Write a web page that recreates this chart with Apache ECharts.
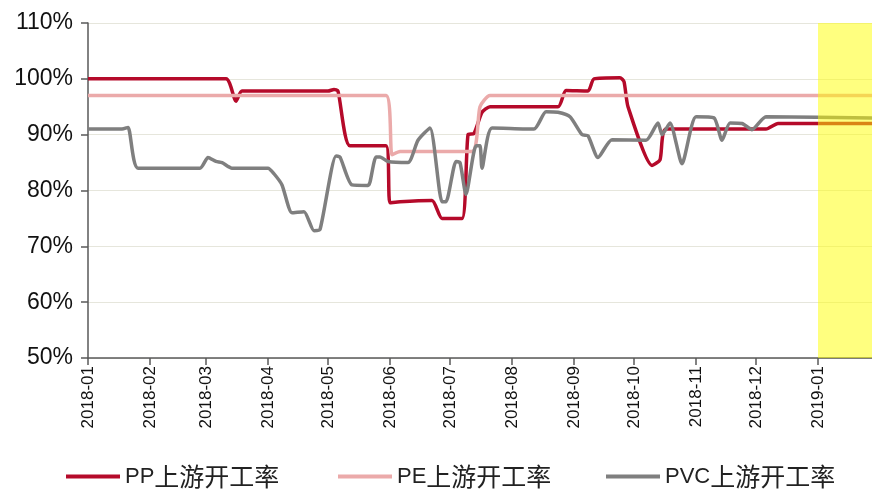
<!DOCTYPE html>
<html>
<head>
<meta charset="utf-8">
<script src="https://cdn.jsdelivr.net/npm/echarts@6/dist/echarts.min.js"></script>
<style>
html,body{margin:0;padding:0;background:#fff;}
#chart{width:872px;height:490px;}
</style>
</head>
<body>
<div id="chart"></div>
<script>
// ---- data ----
var seriesNames = ['PP上游开工率', 'PE上游开工率', 'PVC上游开工率'];
var yTicks = [50, 60, 70, 80, 90, 100, 110];
var axisStart = '2018-01-01';
var axisEnd = '2019-01-28';
var highlightStart = '2019-01-01';

var ppDates = ['2018-01-01','2018-03-11','2018-03-16','2018-03-19','2018-05-01','2018-05-04','2018-05-06','2018-05-12','2018-05-30','2018-06-01','2018-06-06','2018-06-22','2018-06-27','2018-07-07','2018-07-10','2018-07-13','2018-07-17','2018-07-21','2018-08-24','2018-08-28','2018-09-08','2018-09-11','2018-09-24','2018-09-26','2018-09-28','2018-10-10','2018-10-14','2018-10-17','2018-12-06','2018-12-12','2019-01-28'];
var ppValues = [100,100,96,97.8,97.8,98.1,97.8,88,88,77.8,78,78.2,75,75,90,90.2,94,95,95,97.9,97.8,100,100.2,99.5,95,84.5,85.5,91,91,92,92];

var peDates = ['2018-01-01','2018-05-30','2018-06-02','2018-06-06','2018-07-12','2018-07-16','2018-07-21','2019-01-28'];
var peValues = [97,97,86.4,87,87,95,97,97];

var pvcDates = ['2018-01-01','2018-01-18','2018-01-21','2018-01-26','2018-02-26','2018-03-02','2018-03-06','2018-03-09','2018-03-14','2018-04-01','2018-04-04','2018-04-08','2018-04-13','2018-04-19','2018-04-24','2018-04-27','2018-05-05','2018-05-07','2018-05-13','2018-05-21','2018-05-22','2018-05-25','2018-05-27','2018-05-31','2018-06-10','2018-06-15','2018-06-21','2018-06-27','2018-06-29','2018-07-04','2018-07-06','2018-07-09','2018-07-14','2018-07-16','2018-07-17','2018-07-22','2018-08-12','2018-08-18','2018-08-24','2018-08-30','2018-09-05','2018-09-08','2018-09-13','2018-09-20','2018-10-07','2018-10-13','2018-10-15','2018-10-19','2018-10-25','2018-11-01','2018-11-10','2018-11-14','2018-11-18','2018-11-24','2018-11-29','2018-12-06','2019-01-28'];
var pvcValues = [91,91,91.3,84,84,85.9,85.2,85,84,84,83,81,76,76.2,72.8,73,86.2,86,81,80.9,81.5,86,86,85.2,85,89,91.2,78,78,85.2,85,79.3,88,88,84,91.2,91,94.1,94,93.2,90,89.8,85.9,89.1,89,92.1,90,92.1,84.8,93.2,93,89,92.1,92,90.9,93.2,93];

var colors = ['#B50A2A', '#EBAAAA', '#7F7F7F'];

// ---- build daily categories ----
function fmt(d){
  var m = d.getUTCMonth()+1, day = d.getUTCDate();
  return d.getUTCFullYear()+'-'+(m<10?'0':'')+m+'-'+(day<10?'0':'')+day;
}
var categories = [];
var d = new Date(axisStart+'T00:00:00Z'), end = new Date(axisEnd+'T00:00:00Z');
while (d <= end) { categories.push(fmt(d)); d = new Date(d.getTime()+86400000); }

function pairs(ds, vs){ return ds.map(function(x,i){ return [x, vs[i]]; }); }
function isMonthStart(idx, val){ return val.slice(8) === '01'; }

var chart = echarts.init(document.getElementById('chart'), null, {renderer:'canvas'});

function legend(name, left){
  return {
    data:[name], left:left, top:464, padding:0, itemWidth:54, itemHeight:4, icon:'rect',
    formatter:function(n){
      var m = n.match(/^([A-Za-z]+)(.*)$/);
      return '{a|'+m[1]+'}{b|'+m[2]+'}';
    },
    textStyle:{color:'#222', rich:{
      a:{fontSize:22, color:'#222', fontFamily:'"Liberation Sans",Arial,sans-serif'},
      b:{fontSize:25, color:'#222', fontFamily:'"Noto Sans CJK SC",sans-serif'}
    }},
    itemGap:4
  };
}

function lineSeries(i, data){
  return {
    name: seriesNames[i], type:'line', data:data, symbol:'none', smooth:0.2,
    lineStyle:{color:colors[i], width:3.5}, itemStyle:{color:colors[i]}, z:2+i
  };
}

chart.setOption({
  animation:false,
  grid:{left:88, right:0, top:23, bottom:132, outerBoundsMode:'none', containLabel:false},
  legend:[legend(seriesNames[0], 66), legend(seriesNames[1], 338), legend(seriesNames[2], 606)],
  xAxis:{
    type:'category', data:categories, boundaryGap:false,
    axisLine:{lineStyle:{color:'#595959', width:1.5}},
    axisTick:{interval:isMonthStart, length:7, lineStyle:{color:'#595959', width:1.5}},
    axisLabel:{interval:isMonthStart, rotate:90, fontSize:17, color:'#111', margin:8,
      fontFamily:'"Liberation Sans",Arial,sans-serif',
      formatter:function(v){ return v.slice(0,7); }},
    splitLine:{show:false}
  },
  yAxis:{
    type:'value', min:yTicks[0], max:yTicks[yTicks.length-1], interval:10,
    axisLine:{show:true, lineStyle:{color:'#595959', width:1.5}},
    axisTick:{show:true, length:7, lineStyle:{color:'#595959', width:1.5}},
    axisLabel:{fontSize:23, color:'#111', margin:15, fontFamily:'"Liberation Sans",Arial,sans-serif',
      formatter:'{value}%'},
    splitLine:{lineStyle:{color:'#E6E6DC', width:1}}
  },
  series:[
    lineSeries(0, pairs(ppDates, ppValues)),
    lineSeries(1, pairs(peDates, peValues)),
    lineSeries(2, pairs(pvcDates, pvcValues)),
    {
      type:'line', data:[], zlevel:1, z:50, silent:true,
      markArea:{silent:true, z:100, zlevel:1, itemStyle:{color:'rgba(255,255,0,0.5)'},
        data:[[{xAxis:highlightStart}, {xAxis:axisEnd}]]}
    }
  ]
});
</script>
</body>
</html>
